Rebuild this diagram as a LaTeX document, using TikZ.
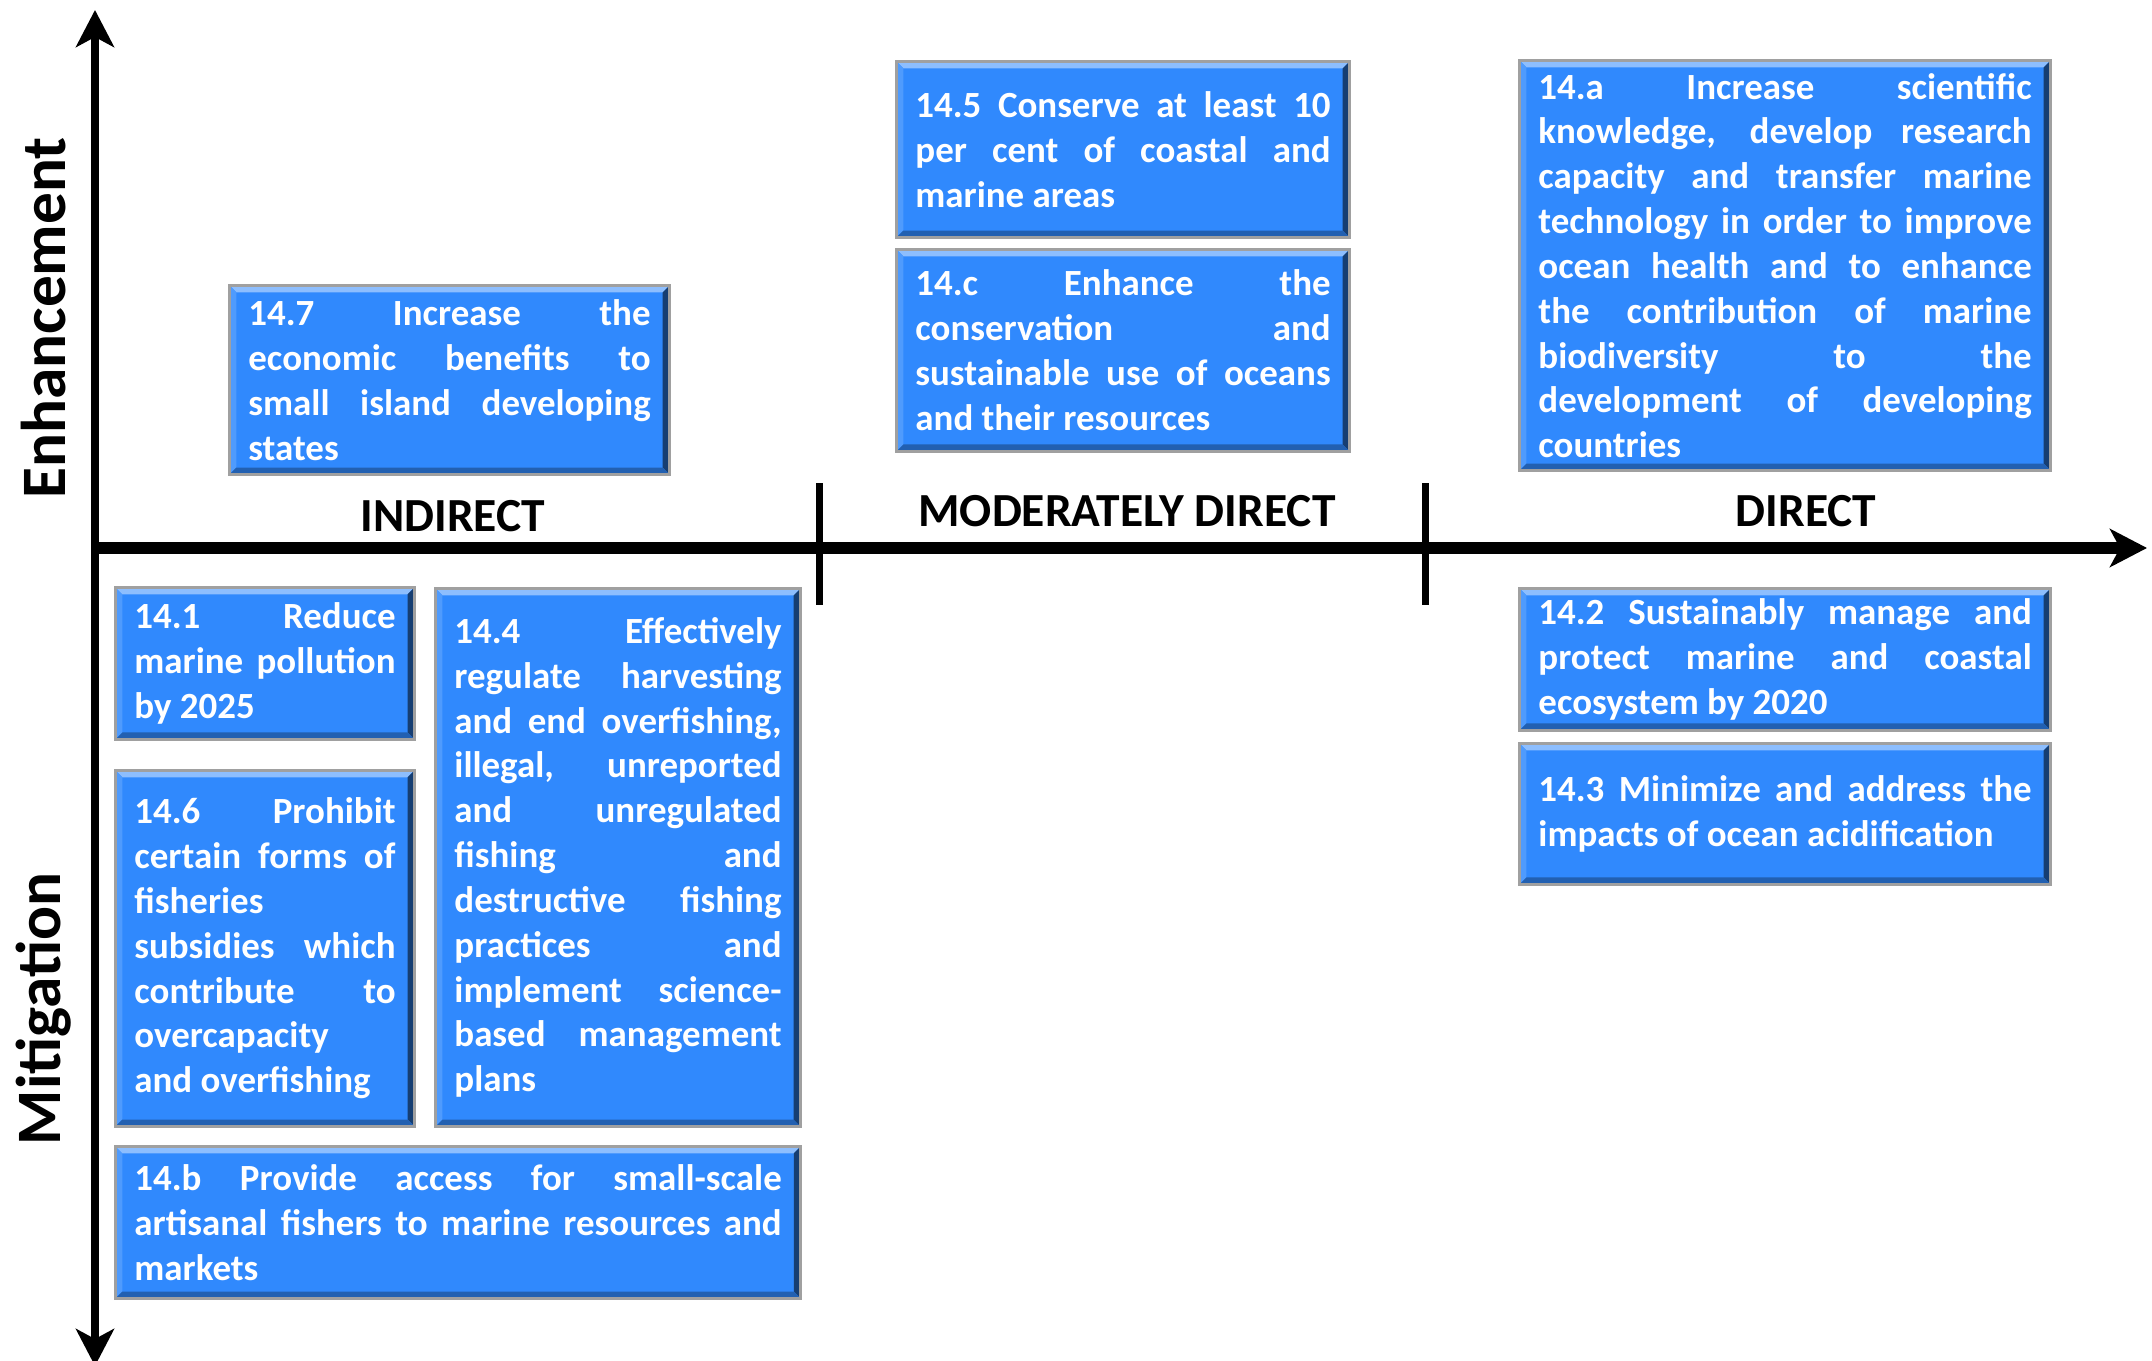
\documentclass[tikz,border=0pt]{standalone}
\usepackage{fontspec}
\setmainfont{Carlito}
\usepackage{tikz}
\usetikzlibrary{arrows.meta,positioning}
\definecolor{goalblue}{RGB}{48,137,253}
\definecolor{goalrim}{RGB}{160,160,160}
\hyphenpenalty=10000
\exhyphenpenalty=10000
\tolerance=10000

\begin{document}
\begin{tikzpicture}[
    x=0.01cm, y=-0.01cm,
    >={Stealth[length=0.37cm,width=0.38cm,inset=0.1cm]},
    font=\bfseries,
    goal/.style={
        rectangle,
        fill=goalblue,
        draw=goalrim,
        line width=0.8pt,
        text=white,
        align=justify,
        inner xsep=0.19cm,
        inner ysep=0pt,
        font=\bfseries\fontsize{10.5}{12.75}\selectfont,
        path picture={
            \path (path picture bounding box.north west) coordinate (pnw)
                  (path picture bounding box.north east) coordinate (pne)
                  (path picture bounding box.south west) coordinate (psw)
                  (path picture bounding box.south east) coordinate (pse);
            \fill[goalblue!55!white] (pnw) -- (pne) -- ([shift={(-0.07cm,-0.07cm)}]pne)
                -- ([shift={(0.07cm,-0.07cm)}]pnw) -- cycle;
            \fill[goalblue!85!white] (pnw) -- ([shift={(0.07cm,-0.07cm)}]pnw)
                -- ([shift={(0.07cm,0.07cm)}]psw) -- (psw) -- cycle;
            \fill[goalblue!45!black] (pne) -- (pse) -- ([shift={(-0.07cm,0.07cm)}]pse)
                -- ([shift={(-0.07cm,-0.07cm)}]pne) -- cycle;
            \fill[goalblue!70!black] (psw) -- (pse) -- ([shift={(-0.07cm,0.07cm)}]pse)
                -- ([shift={(0.07cm,0.07cm)}]psw) -- cycle;
        }
    },
    axislabel/.style={
        font=\bfseries\fontsize{13.5}{16}\selectfont
    },
    sidelabel/.style={
        rotate=90,
        font=\bfseries\fontsize{18}{22}\selectfont
    }
  ]
  \useasboundingbox (0,0) rectangle (2152,1361);

  % the two axes
  \coordinate (vtop) at (95,10);
  \coordinate (vbot) at (95,1366);
  \coordinate (orig) at (95,548);
  \coordinate (hend) at (2147,548);
  \coordinate (t1a) at (819,483);
  \coordinate (t1b) at (819,605);
  \coordinate (t2a) at (1425,483);
  \coordinate (t2b) at (1425,605);

  \draw [<->, line width=0.07cm] (vbot) -- (vtop);
  \draw [->, line width=0.12cm] (orig) -- (hend);
  \draw [line width=0.07cm] (t1a) -- (t1b);
  \draw [line width=0.07cm] (t2a) -- (t2b);

  \node [axislabel] (indirect) at (453,516) {INDIRECT};
  \node [axislabel] (moddirect) at (1127,511) {MODERATELY DIRECT};
  \node [axislabel] (direct) at (1806,511) {DIRECT};

  \node [sidelabel] (enhance) at (44,318) {Enhancement};
  \node [sidelabel] (mitig) at (44,1009) {Mitigation};

  % We place the goal blocks
  \node [goal, anchor=north west, text width=4.02cm, minimum height=1.89cm] (g147) at (228,284)
  {14.7 Increase the\linebreak economic benefits to\linebreak small island developing\linebreak states};

  \node [goal, anchor=north west, text width=4.15cm, minimum height=1.76cm] (g145) at (895,60)
  {14.5 Conserve at least 10\linebreak per cent of coastal and\linebreak marine areas};

  \node [goal, below=0.09cm of g145, text width=4.15cm, minimum height=2.02cm] (g14c)
  {14.c Enhance the\linebreak conservation and\linebreak sustainable use of oceans\linebreak and their resources};

  \node [goal, anchor=north west, text width=4.93cm, minimum height=4.10cm] (g14a) at (1518,59)
  {14.a Increase scientific\linebreak knowledge, develop research\linebreak capacity and transfer marine\linebreak technology in order to improve\linebreak ocean health and to enhance\linebreak the contribution of marine\linebreak biodiversity to the\linebreak development of developing\linebreak countries};

  \node [goal, anchor=north west, text width=4.93cm, minimum height=1.42cm] (g142) at (1518,587)
  {14.2 Sustainably manage and\linebreak protect marine and coastal\linebreak ecosystem by 2020};

  \node [goal, below=0.10cm of g142, text width=4.93cm, minimum height=1.41cm] (g143)
  {14.3 Minimize and address the\linebreak impacts of ocean acidification};

  \node [goal, anchor=north west, text width=2.61cm, minimum height=1.52cm] (g141) at (114,586)
  {14.1 Reduce\linebreak marine pollution\linebreak by 2025};

  \node [goal, below=0.28cm of g141, text width=2.61cm, minimum height=3.56cm] (g146)
  {14.6 Prohibit\linebreak certain forms of\linebreak fisheries\linebreak subsidies which\linebreak contribute to\linebreak overcapacity\linebreak and overfishing};

  \node [goal, anchor=north west, text width=3.27cm, minimum height=5.38cm] (g144) at (434,587)
  {14.4 Effectively\linebreak regulate harvesting\linebreak and end overfishing,\linebreak illegal, unreported\linebreak and unregulated\linebreak fishing and\linebreak destructive fishing\linebreak practices and\linebreak implement science-\linebreak based management\linebreak plans};

  \node [goal, anchor=north west, text width=6.47cm, minimum height=1.52cm] (g14b) at (114,1145)
  {14.b Provide access for small-scale\linebreak artisanal fishers to marine resources and\linebreak markets};

\end{tikzpicture}
\end{document}
